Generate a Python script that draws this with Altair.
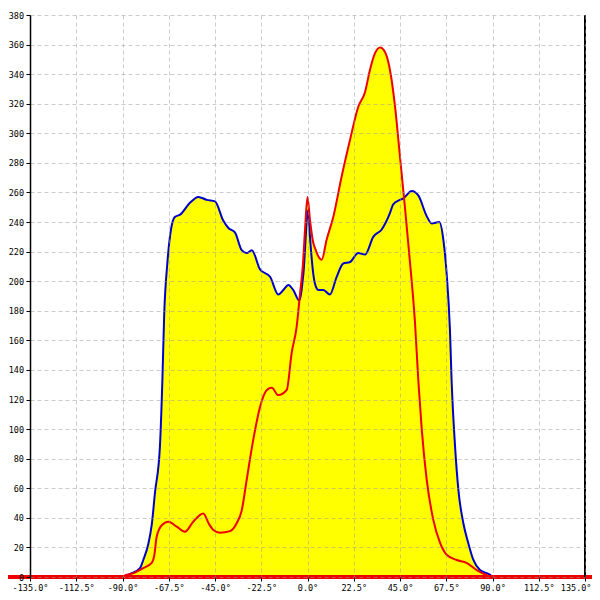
import altair as alt
import pandas as pd

# ---- data ----
blue_deg = [-90, -86.4, -81.5, -79.9, -77.5, -75.8, -74.2, -71.8, -70.6, -69.7, -68.2, -66.4, -64.5,
            -62, -57.2, -53.1, -49, -45, -41, -38.5, -35.3, -32, -29.6, -27.1, -23.1, -18.2,
            -14.2, -11.8, -9.3, -6.9, -4, -2, 0.3, 1.2, 2.8, 4.5, 5.3, 7.7, 10.9, 14.2, 17.4,
            20.7, 24.7, 28, 32, 36.1, 40.1, 41.7, 45, 46.6, 50.7, 53.9, 58, 60.4, 64.1, 66.1,
            67.7, 69.3, 70.1, 71.8, 73.4, 75.8, 78.2, 80.7, 83.9, 88.8, 90]
blue_val = [0, 2, 6, 11.5, 22, 35, 57, 88, 133, 178, 212, 235, 243.5,
            245, 253, 257, 255, 254, 241, 236, 233, 221, 219, 221, 208, 203,
            191, 194, 197.5, 194, 187, 205, 248, 230, 205, 195, 194, 194, 191, 203, 212,
            213, 219, 218, 230, 235, 246, 252, 255, 256, 261, 258, 244, 239, 240, 228,
            205, 167, 133, 88, 59, 36.5, 23, 11.5, 4.7, 1.5, 0]

red_deg = [-135, -90, -89.6, -84, -79.9, -75.8, -74.5, -73.4, -70.9, -67.7, -63.6, -59.6, -55.6,
           -50.7, -48, -45.8, -42.6, -37.7, -34.4, -32, -29.6, -26.4, -23.1, -19.8, -17.4,
           -14.2, -10.1, -7.7, -5.3, -3.6, -2.3, -1.2, 0, 1.2, 2.8, 3.6, 5.3, 6.9, 9.3, 12.6,
           16.6, 20.7, 24.7, 28, 30.4, 32.8, 35.3, 37.7, 40.1, 42.6, 45, 47.4, 49.9, 51.2,
           52.3, 53.9, 55.6, 58, 61.2, 64.5, 67.7, 72.6, 77.4, 82.3, 87.2, 90, 135]
red_val = [0, 0, 0.5, 3, 6, 9.5, 15, 27, 35, 37.4, 34, 30.6, 37.4,
           43, 36, 31.8, 30, 31, 36.5, 45, 65.6, 92.7, 115, 126.5, 128,
           123, 126.5, 151.5, 169, 192, 210, 235, 257, 241.5, 226, 222.6, 216.7, 214.5, 228, 243.8,
           270.8, 295.7, 318, 328, 343, 354, 358, 355, 343, 318, 284, 250, 212, 192,
           172, 133, 99.5, 65.6, 38.6, 23, 15, 11.5, 9.5, 4.7, 1.3, 0, 0]

x_ticks = [-135 + 22.5 * i for i in range(13)]
y_ticks = list(range(0, 381, 20))

blue = pd.DataFrame({"deg": blue_deg, "val": blue_val})
red = pd.DataFrame({"deg": red_deg, "val": red_val})

W, H = 555, 562
FONT = "DejaVu Sans Mono"
FS = 8.5

x = alt.X(
    "deg:Q",
    scale=alt.Scale(domain=[-135, 135], nice=False, zero=False),
    axis=alt.Axis(
        values=x_ticks, title=None, domain=False, tickSize=4, tickColor="black",
        labelPadding=2,
        labelExpr="(datum.value < 0 ? '-' : '') + format(abs(datum.value), '.1f') + '°'",
        labelFont=FONT, labelFontSize=FS, labelColor="black",
        labelAlign={"condition": {"test": "datum.value >= 135", "value": "right"}, "value": "center"},
        labelOffset={"condition": {"test": "datum.value >= 135", "value": 6}, "value": 0},
        grid=True, gridDash=[4, 3], gridColor="#999999", gridOpacity=0.5, zindex=1,
        labelOverlap=False,
    ),
)
y = alt.Y(
    "val:Q",
    scale=alt.Scale(domain=[0, 380], nice=False),
    axis=alt.Axis(
        values=y_ticks, title=None, domain=True, domainColor="black", domainWidth=1.5,
        tickSize=4, tickColor="black", labelPadding=2.5,
        labelFont=FONT, labelFontSize=FS, labelColor="black",
        grid=True, gridDash=[4, 3], gridColor="#999999", gridOpacity=0.5, zindex=1,
        labelOverlap=False,
    ),
)

blue_area = alt.Chart(blue).mark_area(color="#ffff00", interpolate="monotone").encode(x=x, y=y)
red_area = alt.Chart(red).mark_area(color="#ffff00", interpolate="monotone").encode(x=x, y=y)
blue_line = alt.Chart(blue).mark_line(color="#0000cc", strokeWidth=2, interpolate="monotone").encode(x=x, y=y)
red_line = alt.Chart(red).mark_line(color="#ee0000", strokeWidth=2, interpolate="monotone").encode(x=x, y=y)
zero_rule = alt.Chart(red).mark_rule(color="#ee0000", strokeWidth=3).encode(
    x=alt.value(-22), x2=alt.value(W + 7), y=alt.value(H)
)
right_rule = alt.Chart(red).mark_rule(color="black", strokeWidth=1.5).encode(
    x=alt.value(W), y=alt.value(0), y2=alt.value(H)
)

chart = (
    alt.layer(blue_area, red_area, blue_line, red_line, zero_rule, right_rule)
    .properties(
        width=W, height=H,
        autosize=alt.AutoSizeParams(type="none"),
        padding={"left": 22, "top": 7, "right": 7, "bottom": 15},
    )
    .configure_view(stroke=None)
)

chart.save("out.html", embed_options={"renderer": "svg", "actions": False})
